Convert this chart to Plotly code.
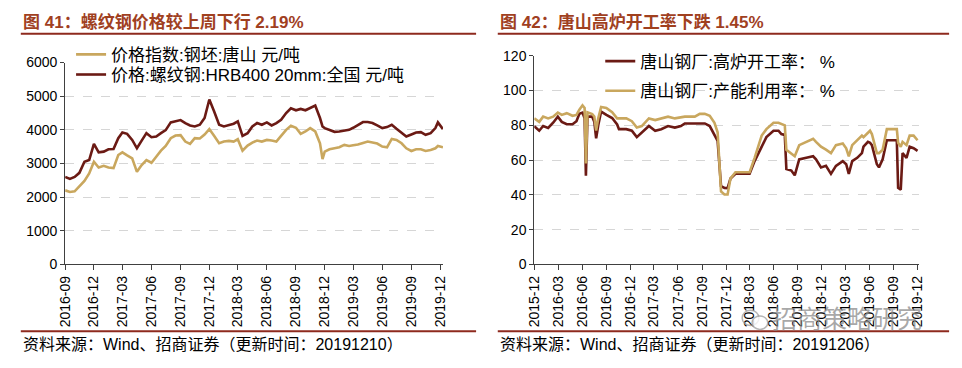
import plotly.graph_objects as go

W, H = 962, 368
FONT = "Liberation Sans, Noto Sans CJK SC, sans-serif"
DARK = "#6B1A14"
GOLD = "#C9A75E"
AXIS = "#404040"
GRID = "#D6D6D6"
TITLE_C = "#A0401F"
RULE_C = "#8E2A1E"

# ---------------- Left panel data ----------------
left_dates = [
    "2016-09-01", "2016-09-16", "2016-10-01", "2016-10-16", "2016-11-01", "2016-11-16",
    "2016-12-01", "2016-12-16", "2017-01-01", "2017-01-16", "2017-02-01", "2017-02-16",
    "2017-03-01", "2017-03-16", "2017-04-01", "2017-04-16", "2017-05-01", "2017-05-16",
    "2017-06-01", "2017-06-16", "2017-07-01", "2017-07-16", "2017-08-01", "2017-08-16",
    "2017-09-01", "2017-09-16", "2017-10-01", "2017-10-16", "2017-11-01", "2017-11-16",
    "2017-12-01", "2017-12-16", "2018-01-01", "2018-01-16", "2018-02-01", "2018-02-16",
    "2018-03-01", "2018-03-16", "2018-04-01", "2018-04-16", "2018-05-01", "2018-05-16",
    "2018-06-01", "2018-06-16", "2018-07-01", "2018-07-16", "2018-08-01", "2018-08-16",
    "2018-09-01", "2018-09-16", "2018-10-01", "2018-10-16", "2018-11-01", "2018-11-16",
    "2018-11-24", "2018-12-01", "2018-12-16", "2019-01-01", "2019-01-16", "2019-02-01",
    "2019-02-16", "2019-03-01", "2019-03-16", "2019-04-01", "2019-04-16", "2019-05-01",
    "2019-05-16", "2019-06-01", "2019-06-16", "2019-07-01", "2019-07-16", "2019-08-01",
    "2019-08-16", "2019-09-01", "2019-09-16", "2019-10-01", "2019-10-16", "2019-11-01",
    "2019-11-16", "2019-11-24", "2019-12-01", "2019-12-10",
]
rebar_price = [
    2600, 2540, 2600, 2720, 3050, 3100,
    3580, 3330, 3350, 3420, 3430, 3750,
    3920, 3880, 3700, 3450, 3680, 3900,
    3780, 3800, 3900, 3990, 4220, 4250,
    4290, 4200, 4130, 4100, 4150, 4350,
    4900, 4550, 4150, 4100, 4140, 4180,
    4250, 3820, 3900, 4100, 4200, 4150,
    4220, 4130, 4200, 4300, 4500, 4640,
    4580, 4620, 4580, 4650, 4720, 4350,
    4100, 4050, 4000, 3940, 3950, 3980,
    4000, 4060, 4140, 4230, 4230, 4200,
    4130, 4050, 4080, 4150, 4030, 3920,
    3800, 3860, 3920, 3930, 3850, 3900,
    4050, 4220, 4120, 4020,
]
billet_price = [
    2200, 2150, 2170, 2310, 2480, 2700,
    3050, 2880, 2930, 2880, 2860, 3250,
    3330, 3240, 3150, 2750, 2950, 3100,
    3020, 3200, 3380, 3520, 3750, 3830,
    3840, 3650, 3580, 3750, 3740, 3860,
    4020, 3820, 3600, 3650, 3670, 3650,
    3720, 3380, 3530, 3620, 3680, 3650,
    3700, 3680, 3650, 3820, 4000, 4120,
    4060, 3880, 3950, 4050, 3950, 3600,
    3130, 3350, 3420, 3450, 3480, 3550,
    3520, 3540, 3560, 3610, 3650, 3620,
    3590, 3500, 3480, 3730, 3700, 3600,
    3450, 3370, 3420, 3420, 3370, 3400,
    3450, 3520, 3500, 3480,
]
left_xticks = ["2016-09", "2016-12", "2017-03", "2017-06", "2017-09", "2017-12", "2018-03",
               "2018-06", "2018-09", "2018-12", "2019-03", "2019-06", "2019-09", "2019-12"]
left_yticks = [0, 1000, 2000, 3000, 4000, 5000, 6000]

# ---------------- Right panel data ----------------
right_dates = [
    "2015-12-01", "2015-12-20", "2016-01-04", "2016-01-23", "2016-02-11", "2016-02-29",
    "2016-03-15", "2016-04-03", "2016-04-25", "2016-05-10", "2016-05-21", "2016-06-02",
    "2016-06-10", "2016-06-15", "2016-06-21", "2016-07-09", "2016-07-17", "2016-07-24",
    "2016-08-01", "2016-08-12", "2016-09-01", "2016-09-23", "2016-10-12", "2016-10-19",
    "2016-11-16", "2016-12-07", "2016-12-26", "2017-01-14", "2017-02-10", "2017-03-06",
    "2017-03-29", "2017-04-24", "2017-05-20", "2017-06-12", "2017-06-27", "2017-08-04",
    "2017-08-23", "2017-09-11", "2017-09-30", "2017-10-18", "2017-10-30", "2017-11-12",
    "2017-11-25", "2017-12-07", "2017-12-18", "2018-01-06", "2018-03-01", "2018-03-20",
    "2018-04-04", "2018-04-16", "2018-05-04", "2018-05-31", "2018-06-19", "2018-06-30",
    "2018-07-13", "2018-07-19", "2018-08-07", "2018-08-20", "2018-09-06", "2018-10-03",
    "2018-10-29", "2018-11-09", "2018-11-28", "2018-12-17", "2019-01-05", "2019-01-24",
    "2019-02-19", "2019-03-04", "2019-03-14", "2019-03-27", "2019-04-15", "2019-05-03",
    "2019-05-09", "2019-05-26", "2019-06-03", "2019-06-10", "2019-06-29", "2019-07-07",
    "2019-07-21", "2019-08-06", "2019-09-13", "2019-09-18", "2019-09-28", "2019-10-05",
    "2019-10-20", "2019-11-01", "2019-11-16", "2019-12-01",
]
bf_rate = [
    79.5, 76.9, 79.6, 78.5, 81.5, 85.0,
    82.0, 80.6, 80.6, 82.4, 86.6, 87.3,
    84.0, 51.0, 85.0, 85.0, 82.0, 72.5,
    80.0, 87.9, 86.0, 84.2, 80.5, 77.8,
    77.8, 76.9, 73.2, 76.0, 79.6, 76.9,
    77.8, 79.6, 78.7, 79.6, 81.1, 81.1,
    81.1, 81.1, 79.6, 74.1, 71.0, 45.0,
    44.0, 43.9, 49.4, 52.1, 52.1, 59.4,
    64.0, 68.0, 73.2, 76.9, 76.9, 75.0,
    74.5, 54.9, 54.0, 51.2, 60.4, 61.3,
    62.2, 60.4, 55.8, 56.7, 52.1, 56.7,
    59.4, 57.6, 52.1, 59.4, 61.3, 64.0,
    67.7, 70.5, 70.0, 68.6, 57.6, 55.8,
    60.4, 71.4, 71.4, 44.0, 43.0, 64.0,
    61.3, 67.7, 66.8, 65.3,
]
capacity_rate = [
    84.0, 82.0, 85.0, 84.0, 85.0, 87.3,
    86.0, 87.0, 85.5, 86.0, 89.0, 91.5,
    90.0, 58.0, 87.5, 86.5, 85.0, 77.0,
    84.0, 90.5, 90.0, 87.5, 84.0, 84.0,
    84.0, 82.4, 78.7, 79.6, 84.0, 83.0,
    84.0, 85.0, 84.0, 84.5, 85.0, 85.0,
    86.6, 86.6, 85.5, 81.5, 76.0, 42.0,
    40.2, 40.2, 49.4, 53.0, 53.0, 61.3,
    68.6, 74.1, 77.8, 81.5, 81.5, 80.6,
    80.0, 65.9, 64.0, 62.2, 68.6, 70.5,
    72.3, 70.5, 67.7, 66.0, 64.0, 68.6,
    69.5, 66.8, 62.2, 68.6, 71.4, 74.1,
    73.2, 75.5, 76.9, 75.0, 64.0, 64.0,
    65.9, 77.8, 77.8, 70.0, 67.7, 70.5,
    68.6, 74.1, 74.1, 71.4,
]
right_xticks = ["2015-12", "2016-03", "2016-06", "2016-09", "2016-12", "2017-03", "2017-06",
                "2017-09", "2017-12", "2018-03", "2018-06", "2018-09", "2018-12", "2019-03",
                "2019-06", "2019-09", "2019-12"]
right_yticks = [0, 20, 40, 60, 80, 100, 120]

# ---------------- Texts ----------------
title_left = "<b>图 41：螺纹钢价格较上周下行 2.19%</b>"
title_right = "<b>图 42：唐山高炉开工率下跌 1.45%</b>"
source_left = "资料来源：Wind、招商证券（更新时间：20191210）"
source_right = "资料来源：Wind、招商证券（更新时间：20191206）"
name_billet = "价格指数:钢坯:唐山 元/吨"
name_rebar = "价格:螺纹钢:HRB400 20mm:全国 元/吨"
name_bf = "唐山钢厂:高炉开工率： %"
name_cap = "唐山钢厂:产能利用率： %"
watermark = "招商策略研究"


def fx(p):
    return p / W


def fy(p):
    return 1 - p / H


fig = go.Figure()
fig.add_trace(go.Scatter(x=left_dates, y=billet_price, mode="lines", name=name_billet,
                         line=dict(color=GOLD, width=2.6), xaxis="x", yaxis="y", legend="legend"))
fig.add_trace(go.Scatter(x=left_dates, y=rebar_price, mode="lines", name=name_rebar,
                         line=dict(color=DARK, width=2.6), xaxis="x", yaxis="y", legend="legend2"))
fig.add_trace(go.Scatter(x=right_dates, y=bf_rate, mode="lines", name=name_bf,
                         line=dict(color=DARK, width=2.6), xaxis="x2", yaxis="y2", legend="legend3"))
fig.add_trace(go.Scatter(x=right_dates, y=capacity_rate, mode="lines", name=name_cap,
                         line=dict(color=GOLD, width=2.6), xaxis="x2", yaxis="y2", legend="legend4"))

tickfont = dict(family=FONT, size=14, color="#000000")
xcommon = dict(type="date", tickangle=-90, ticks="outside", ticklen=5, tickcolor=AXIS,
               showline=True, linecolor=AXIS, linewidth=1, showgrid=False, zeroline=False,
               tickfont=tickfont, fixedrange=True)
ycommon = dict(ticks="outside", ticklen=4, tickcolor=AXIS, showline=True, linecolor=AXIS,
               linewidth=1, showgrid=True, gridcolor=GRID, griddash="dash", gridwidth=1,
               zeroline=False, tickfont=tickfont, fixedrange=True)

leg_font = dict(family=FONT, size=17, color="#000000")
legcommon = dict(xanchor="left", yanchor="middle", bgcolor="rgba(0,0,0,0)", font=leg_font,
                 borderwidth=0, itemwidth=30)

fig.update_layout(
    width=W, height=H, autosize=False,
    margin=dict(l=0, r=0, t=0, b=0),
    paper_bgcolor="white", plot_bgcolor="white",
    font=dict(family=FONT, color="#000000"),
    showlegend=True,
    xaxis=dict(xcommon, domain=[fx(58), fx(441.4)], range=["2016-09-01", "2019-12-10"],
               tickvals=[t + "-01" for t in left_xticks], ticktext=left_xticks, anchor="y"),
    yaxis=dict(ycommon, domain=[fy(268), fy(57)], range=[0, 6000], tickvals=left_yticks,
               anchor="x"),
    xaxis2=dict(xcommon, domain=[fx(534), fx(924.3)], range=["2015-12-01", "2019-12-06"],
                tickvals=[t + "-01" for t in right_xticks], ticktext=right_xticks, anchor="y2"),
    yaxis2=dict(ycommon, domain=[fy(268), fy(50)], range=[0, 120], tickvals=right_yticks,
                anchor="x2"),
    legend=dict(legcommon, x=fx(64), y=fy(49)),
    legend2=dict(legcommon, x=fx(64), y=fy(70)),
    legend3=dict(legcommon, x=fx(601), y=fy(56)),
    legend4=dict(legcommon, x=fx(601), y=fy(87)),
)

# titles
fig.add_annotation(x=fx(13), y=fy(15), xref="paper", yref="paper", text=title_left,
                   showarrow=False, xanchor="left", yanchor="middle",
                   font=dict(family=FONT, size=17, color=TITLE_C))
fig.add_annotation(x=fx(497), y=fy(15), xref="paper", yref="paper", text=title_right,
                   showarrow=False, xanchor="left", yanchor="middle",
                   font=dict(family=FONT, size=17, color=TITLE_C))
# sources
fig.add_annotation(x=fx(13), y=fy(352), xref="paper", yref="paper", text=source_left,
                   showarrow=False, xanchor="left", yanchor="middle",
                   font=dict(family=FONT, size=16, color="#000000"))
fig.add_annotation(x=fx(497), y=fy(352), xref="paper", yref="paper", text=source_right,
                   showarrow=False, xanchor="left", yanchor="middle",
                   font=dict(family=FONT, size=16, color="#000000"))
# watermark
fig.add_annotation(x=fx(773), y=fy(325), xref="paper", yref="paper", text=watermark,
                   showarrow=False, xanchor="left", yanchor="middle",
                   font=dict(family=FONT, size=25, color="rgba(140,140,140,0.75)"))

# rules
for x0, x1 in [(13, 475), (497, 955)]:
    fig.add_shape(type="line", xref="paper", yref="paper", x0=fx(x0), x1=fx(x1),
                  y0=fy(27), y1=fy(27), line=dict(color=RULE_C, width=2))
    fig.add_shape(type="line", xref="paper", yref="paper", x0=fx(x0), x1=fx(x1),
                  y0=fy(338), y1=fy(338), line=dict(color=RULE_C, width=2))

# watermark icon (two bubbles)
fig.add_shape(type="circle", xref="paper", yref="paper", x0=fx(745), x1=fx(762),
              y0=fy(332), y1=fy(316), line=dict(color="rgba(150,150,150,0.7)", width=1.5))
fig.add_shape(type="circle", xref="paper", yref="paper", x0=fx(755), x1=fx(771),
              y0=fy(336), y1=fy(322), line=dict(color="rgba(150,150,150,0.7)", width=1.5),
              fillcolor="rgba(255,255,255,0.8)")

fig.write_html("out.html", config={"displayModeBar": False},
               post_script="document.body.style.margin='0';")
